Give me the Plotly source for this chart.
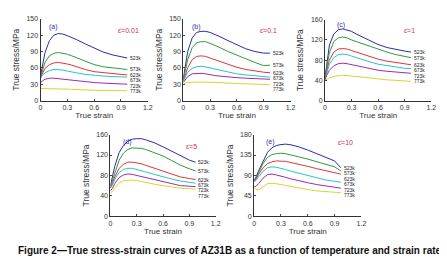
import plotly.graph_objects as go

strain = [0, 0.02, 0.05, 0.1, 0.15, 0.2, 0.25, 0.3, 0.35, 0.4, 0.5, 0.6, 0.7, 0.8, 0.9, 0.97]
temps = ["523k", "573k", "623k", "673k", "723k", "773k"]
panel_tags = ["(a)", "(b)", "(c)", "(d)", "(e)"]
rate_labels = ["\u03b5\u0307=0.01", "\u03b5\u0307=0.1", "\u03b5\u0307=1", "\u03b5\u0307=5", "\u03b5\u0307=10"]

# panel (a) strain rate 0.01
a_523 = [45, 62, 88, 110, 120, 123, 122, 119, 116, 112, 104, 96, 89, 84, 80, 78]
a_573 = [43, 55, 70, 82, 87, 88, 87, 85, 82, 79, 72, 66, 62, 60, 58, 57]
a_623 = [42, 50, 59, 66, 69, 70, 69, 67, 65, 62, 57, 53, 51, 49, 48, 47]
a_673 = [40, 46, 51, 55, 57, 57, 56, 54, 53, 51, 48, 46, 45, 44, 43, 43]
a_723 = [32, 36, 39, 41, 41, 40, 39, 38, 37, 36, 34, 33, 32, 31, 30, 30]
a_773 = [22, 22, 22, 22, 22, 21.5, 21, 21, 20.5, 20, 19.5, 19, 18.5, 18, 18, 18]
# panel (b) strain rate 0.1
b_523 = [40, 60, 90, 115, 125, 127, 127, 125, 122, 118, 110, 102, 95, 90, 87, 87]
b_573 = [38, 52, 75, 97, 106, 108, 108, 105, 102, 98, 90, 83, 76, 70, 64, 65]
b_623 = [36, 46, 60, 75, 81, 82, 81, 78, 75, 72, 66, 61, 57, 54, 52, 51]
b_673 = [35, 42, 52, 59, 62, 63, 62, 60, 58, 56, 52, 49, 47, 45, 44, 43]
b_723 = [33, 38, 44, 49, 50, 50, 49, 47, 46, 45, 43, 42, 41, 40, 39, 39]
b_773 = [30, 32, 33, 34, 34, 34, 34, 33.5, 33, 33, 32, 31, 30.5, 30, 29.5, 29]
# panel (c) strain rate 1
c_523 = [45, 75, 110, 132, 140, 142, 140, 137, 132, 128, 119, 111, 105, 101, 98, 96]
c_573 = [45, 65, 95, 117, 124, 126, 124, 120, 117, 113, 107, 102, 96, 91, 87, 85]
c_623 = [44, 60, 80, 96, 102, 103, 102, 99, 96, 93, 87, 82, 78, 75, 72, 71]
c_673 = [42, 55, 72, 85, 91, 92, 91, 88, 85, 82, 77, 72, 69, 66, 64, 63]
c_723 = [40, 50, 60, 69, 73, 74, 73, 71, 69, 67, 63, 60, 58, 56, 55, 54]
c_773 = [40, 42, 45, 48, 49, 50, 49.5, 48.5, 47, 46, 44, 42, 41, 40, 39, 38]
# panel (d) strain rate 5
d_523 = [60, 75, 98, 125, 139, 147, 151, 152, 152, 150, 144, 136, 127, 118, 110, 106]
d_573 = [58, 68, 86, 110, 124, 131, 134, 134, 133, 131, 125, 118, 109, 100, 93, 89]
d_623 = [56, 63, 77, 94, 102, 106, 106, 105, 103, 100, 94, 88, 82, 77, 74, 72]
d_673 = [55, 60, 72, 86, 92, 94, 94, 92, 90, 87, 82, 77, 73, 69, 66, 65]
d_723 = [50, 54, 64, 76, 81, 83, 82, 80, 78, 75, 71, 67, 63, 60, 59, 58]
d_773 = [45, 48, 56, 65, 70, 71, 71, 70, 68, 66, 63, 60, 57, 55, 54, 53]
# panel (e) strain rate 10
e_523 = [79, 86, 100, 122, 141, 151, 156, 158, 159, 158, 153, 146, 138, 129, 122, 107]
e_573 = [79, 84, 96, 116, 130, 136, 138, 139, 138, 136, 131, 126, 120, 114, 109, 100]
e_623 = [78, 82, 92, 107, 116, 120, 122, 122, 121, 119, 115, 110, 105, 100, 96, 93]
e_673 = [76, 79, 87, 99, 107, 109, 108, 106, 103, 100, 95, 90, 85, 80, 77, 75]
e_723 = [65, 66, 72, 84, 92, 93, 91, 89, 86, 83, 78, 74, 70, 67, 64, 62]
e_773 = [64, 59, 58, 65, 72, 73, 72, 70, 68, 66, 62, 59, 56, 54, 53, 52]

panels = [
    [a_523, a_573, a_623, a_673, a_723, a_773],
    [b_523, b_573, b_623, b_673, b_723, b_773],
    [c_523, c_573, c_623, c_673, c_723, c_773],
    [d_523, d_573, d_623, d_673, d_723, d_773],
    [e_523, e_573, e_623, e_673, e_723, e_773],
]
y_max = [150, 150, 160, 160, 180]
y_step = [30, 30, 40, 40, 45]
x_ticks = [0, 0.3, 0.6, 0.9, 1.2]
x_tick_text = ["0", "0.3", "0.6", "0.9", "1.2"]

colors = ["#2b2ba8", "#2e9a3e", "#e03434", "#28c4c4", "#a02aa8", "#d8d430"]

W, H = 447, 259
# pixel boxes (left, right, top, bottom)
boxes = [(31, 140, 7, 91), (176, 285, 7, 91), (320, 428, 8, 91),
         (102, 209, 126, 210), (248, 357, 126, 210)]
tag_pos = [(0.06, 0.90), (0.06, 0.90), (0.09, 0.93), (0.10, 0.91), (0.09, 0.91)]
rate_pos = [(0.70, 0.86), (0.70, 0.86), (0.72, 0.87), (0.70, 0.86), (0.76, 0.90)]

fig = go.Figure()
layout = dict(width=W, height=H, margin=dict(l=0, r=0, t=0, b=0),
              paper_bgcolor="white", plot_bgcolor="white", showlegend=False,
              font=dict(family="Liberation Sans, Arial", color="#333"))
annotations = []
tick_font = dict(family="Liberation Sans, Arial", size=7, color="#333")
title_font = dict(family="Liberation Sans, Arial", size=8, color="#333")
ytitle_font = dict(family="Liberation Sans, Arial", size=8.5, color="#333")

for i, curves in enumerate(panels):
    n = "" if i == 0 else str(i + 1)
    xa, ya = "x" + n, "y" + n
    l, r, t, b = boxes[i]
    layout["xaxis" + n] = dict(domain=[l / W, r / W], range=[0, 1.2], tickvals=x_ticks,
                               ticktext=x_tick_text, ticks="inside", ticklen=2,
                               showgrid=False, zeroline=False, showline=True,
                               linecolor="#333", linewidth=1, mirror=False,
                               tickfont=tick_font, anchor=ya,
                               title=dict(text="True strain", font=title_font, standoff=0))
    layout["yaxis" + n] = dict(domain=[1 - b / H, 1 - t / H], range=[0, y_max[i]],
                               dtick=y_step[i], tick0=0, ticks="inside", ticklen=2,
                               showgrid=False, zeroline=False, showline=True,
                               linecolor="#333", linewidth=1, mirror=False,
                               tickfont=tick_font, anchor=xa,
                               title=dict(text="True stress/MPa", font=ytitle_font, standoff=5))
    for k, ys in enumerate(curves):
        fig.add_trace(go.Scatter(x=strain, y=ys, mode="lines", xaxis=xa, yaxis=ya,
                                 line=dict(color=colors[k], width=1), hoverinfo="skip"))
    # temperature labels at curve ends, spaced to avoid overlap
    px_per_unit = (b - t) / y_max[i]
    gap = 5.6 / px_per_unit
    prev = None
    for k, ys in enumerate(curves):
        yv = ys[-1]
        if prev is not None and yv > prev - gap:
            yv = prev - gap
        prev = yv
        annotations.append(dict(x=strain[-1] + 0.01, y=yv, xref=xa, yref=ya, text=temps[k],
                                showarrow=False, xanchor="left", yanchor="middle",
                                font=dict(size=5, color="#222")))
    annotations.append(dict(x=tag_pos[i][0], y=tag_pos[i][1], xref=xa + " domain",
                            yref=ya + " domain", text=panel_tags[i], showarrow=False,
                            xanchor="left", yanchor="middle",
                            font=dict(size=7, color="#3030a0")))
    annotations.append(dict(x=rate_pos[i][0], y=rate_pos[i][1], xref=xa + " domain",
                            yref=ya + " domain", text=rate_labels[i], showarrow=False,
                            xanchor="left", yanchor="middle",
                            font=dict(size=7, color="#d03050")))

annotations.append(dict(x=0.5, y=1 - 245 / H, xref="paper", yref="paper",
                        text="<b>Figure 2\u2014True stress-strain curves of AZ31B as a function of temperature and strain rate</b>",
                        showarrow=False, xanchor="center", yanchor="middle",
                        font=dict(family="Liberation Sans, Arial", size=10, color="#111")))
layout["annotations"] = annotations
fig.update_layout(**layout)
fig.write_html("out.html")
